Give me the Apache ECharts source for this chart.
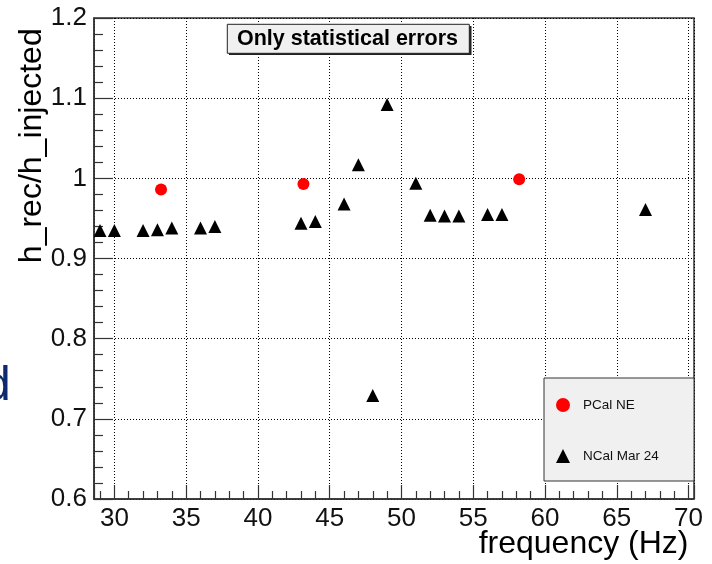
<!DOCTYPE html>
<html><head><meta charset="utf-8">
<script src="https://cdn.jsdelivr.net/npm/echarts@6/dist/echarts.min.js"></script>
<style>html,body{margin:0;padding:0;background:#fff}#c{width:712px;height:564px}</style>
</head><body><div id="c"></div>
<script>
// ---- data ----
const pcalFreq = [33.25, 43.17, 58.2];
const pcalRatio = [0.986, 0.993, 0.999];
const ncalFreq = [29, 30, 32, 33, 34, 36, 37, 43, 44, 46, 47, 48, 49, 51, 52, 53, 54, 56, 57, 67];
const ncalRatio = [0.935, 0.935, 0.935, 0.936, 0.938, 0.938, 0.940, 0.944, 0.946, 0.968, 1.017, 0.729, 1.092, 0.994, 0.954, 0.953, 0.953, 0.955, 0.955, 0.961];
const xTickLabels = [30, 35, 40, 45, 50, 55, 60, 65, 70];
const yTickLabels = [0.6, 0.7, 0.8, 0.9, 1.0, 1.1, 1.2];
const seriesNames = ['PCal NE', 'NCal Mar 24'];
const xTitle = 'frequency (Hz)';
const yTitle = 'h_rec/h_injected';
const boxTitle = 'Only statistical errors';

const FONT = 'Liberation Sans, Arial, Helvetica, sans-serif';
const chart = echarts.init(document.getElementById('c'), null, {renderer: 'canvas'});

const option = {
  animation: false,
  backgroundColor: '#ffffff',
  grid: {left: 94, right: 18, top: 18, bottom: 65, show: true, borderColor: '#333', borderWidth: 1.5, backgroundColor: 'transparent'},
  xAxis: {
    type: 'value', min: 28.58, max: 70.38, splitNumber: 8,
    axisLine: {show: true, onZero: false, lineStyle: {color: '#333', width: 1.5}},
    axisTick: {show: true, inside: true, length: 14, lineStyle: {color: '#333', width: 1.2}},
    minorTick: {show: true, splitNumber: 5, length: 8, lineStyle: {color: '#333', width: 1.2}},
    axisLabel: {
      fontSize: 26, fontFamily: FONT, color: '#111', margin: 7,
      formatter: v => xTickLabels.some(t => Math.abs(t - v) < 1e-6) ? String(Math.round(v)) : ''
    },
    splitLine: {show: true, lineStyle: {type: [1, 2], color: '#000', width: 1}}
  },
  yAxis: {
    type: 'value', min: 0.6, max: 1.2, interval: 0.1,
    axisLine: {show: true, onZero: false, lineStyle: {color: '#333', width: 1.5}},
    axisTick: {show: true, inside: true, length: 19, lineStyle: {color: '#333', width: 1.2}},
    minorTick: {show: true, splitNumber: 5, length: 9, lineStyle: {color: '#333', width: 1.2}},
    axisLabel: {
      fontSize: 26, fontFamily: FONT, color: '#111', margin: 7,
      formatter: v => {
        const t = yTickLabels.find(t => Math.abs(t - v) < 1e-6);
        if (t === undefined) return '';
        return Math.abs(t - 1) < 1e-6 ? '1' : t.toFixed(1);
      }
    },
    splitLine: {show: true, lineStyle: {type: [1, 2], color: '#000', width: 1}}
  },
  legend: {
    orient: 'vertical', left: 544, top: 378, z: 10,
    padding: [20, 5, 18, 12], itemWidth: 14, itemHeight: 14, itemGap: 37,
    backgroundColor: 'transparent',
    textStyle: {fontSize: 13.5, fontFamily: FONT, color: '#111', padding: [0, 0, 0, 8]},
    data: seriesNames
  },
  graphic: [
    {type: 'rect', z: 5, shape: {x: 544, y: 378, width: 150, height: 103}, style: {fill: '#f0f0f0', stroke: '#333', lineWidth: 1}},
    {type: 'rect', z: 5, shape: {x: 229, y: 26, width: 242.5, height: 29}, style: {fill: '#222'}},
    {type: 'rect', z: 6, shape: {x: 227.3, y: 24.3, width: 242, height: 29}, style: {fill: '#f0f0f0', stroke: '#222', lineWidth: 1}},
    {type: 'text', z: 7, x: 347.5, y: 39, style: {text: boxTitle, font: 'bold 21.5px ' + FONT, fill: '#000', align: 'center', verticalAlign: 'middle'}},
    {type: 'text', z: 7, x: 688.5, y: 544, style: {text: xTitle, font: '32px ' + FONT, fill: '#000', align: 'right', verticalAlign: 'middle'}},
    {type: 'text', z: 7, x: 32.5, y: 28.3, rotation: Math.PI / 2, style: {text: yTitle, font: '32px ' + FONT, fill: '#000', align: 'right', verticalAlign: 'middle'}},
    {type: 'text', z: 7, x: -16, y: 386.5, style: {text: 'd', font: '48px ' + FONT, fill: '#0b2a6f', align: 'left', verticalAlign: 'middle'}}
  ],
  series: [
    {
      type: 'scatter', name: seriesNames[0], symbol: 'circle', symbolSize: 12, z: 3,
      itemStyle: {color: '#ff0000', opacity: 1},
      data: pcalFreq.map((f, i) => [f, pcalRatio[i]])
    },
    {
      type: 'scatter', name: seriesNames[1], symbol: 'triangle', symbolSize: 13, z: 3,
      itemStyle: {color: '#000000', opacity: 1},
      data: ncalFreq.map((f, i) => [f, ncalRatio[i]])
    }
  ]
};
chart.setOption(option);
</script></body></html>
